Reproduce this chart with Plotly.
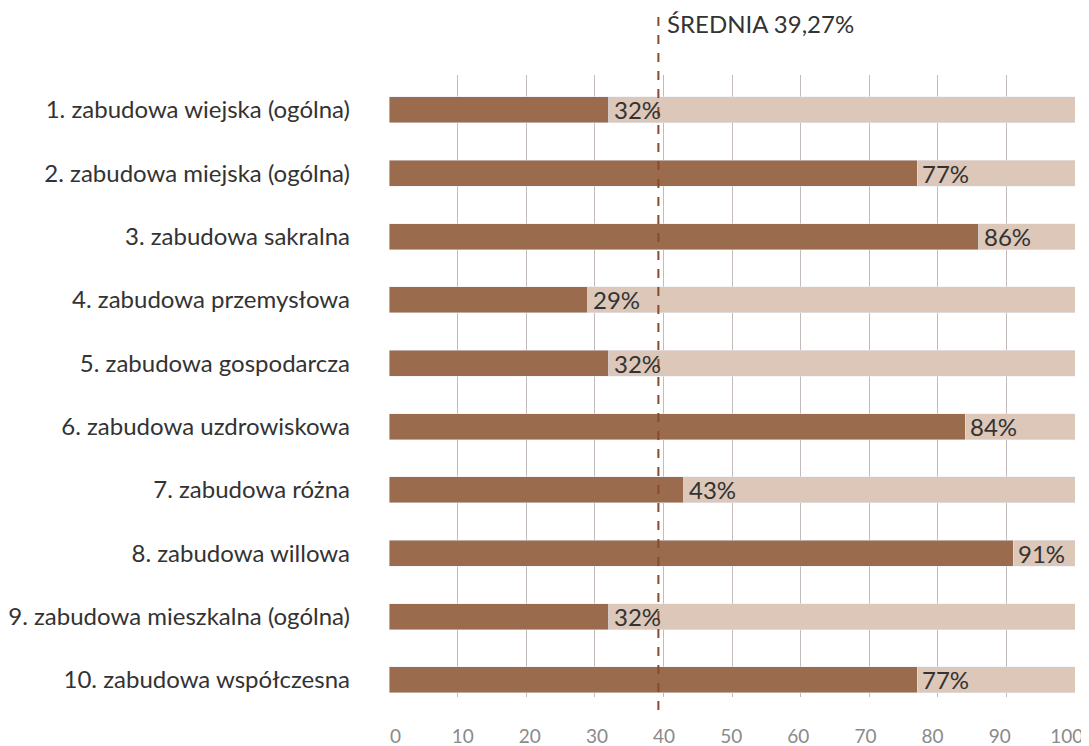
"""Udział zabudowy – wykres słupkowy poziomy ze średnią."""

import plotly.graph_objects as go

categories = [
    "1. zabudowa wiejska (ogólna)",
    "2. zabudowa miejska (ogólna)",
    "3. zabudowa sakralna",
    "4. zabudowa przemysłowa",
    "5. zabudowa gospodarcza",
    "6. zabudowa uzdrowiskowa",
    "7. zabudowa różna",
    "8. zabudowa willowa",
    "9. zabudowa mieszkalna (ogólna)",
    "10. zabudowa współczesna",
]
values = [32, 77, 86, 29, 32, 84, 43, 91, 32, 77]
mean_value = 39.27
mean_label = "ŚREDNIA 39,27%"
x_ticks = list(range(0, 101, 10))

DARK = "#9b6b4e"
LIGHT = "#dcc7b9"
FONT = "Lato"

rest = [100 - v for v in values]

fig = go.Figure()
fig.add_trace(go.Bar(
    y=categories, x=values, orientation="h", marker_color=DARK,
    width=0.41, hoverinfo="skip",
))
fig.add_trace(go.Bar(
    y=categories, x=rest, base=values, orientation="h", marker_color=LIGHT,
    width=0.41, hoverinfo="skip",
))
# niewidoczny ślad, żeby oś x2 (same etykiety) się narysowała
fig.add_trace(go.Scatter(
    x=x_ticks, y=[categories[0]] * len(x_ticks), xaxis="x2", mode="markers",
    marker=dict(opacity=0), hoverinfo="skip",
))

# etykiety wartości tuż za ciemnym słupkiem
for cat, v in zip(categories, values):
    fig.add_annotation(
        x=v, y=cat, text=f"{v}%", showarrow=False,
        xanchor="left", yanchor="middle", xshift=3,
        font=dict(family=FONT, size=24, color="#333333"),
    )

fig.add_shape(
    type="line", xref="x", yref="paper", x0=mean_value, x1=mean_value,
    y0=-0.021, y1=1.101, line=dict(color="#8a4a2c", width=2, dash="dash"),
)
fig.add_annotation(
    x=mean_value, xref="x", y=1.083, yref="paper", text=mean_label,
    showarrow=False, xanchor="left", yanchor="middle", xshift=7,
    font=dict(family=FONT, size=24, color="#333333"),
)

# strona ma 8 px marginesu body, więc marginesy są o tyle przesunięte
fig.update_layout(
    width=1089, height=746,
    margin=dict(l=381, r=22, t=67, b=57, autoexpand=False),
    barmode="stack", showlegend=False,
    plot_bgcolor="rgba(0,0,0,0)", paper_bgcolor="white",
    font=dict(family=FONT),
    xaxis=dict(
        range=[0, 100], tickvals=x_ticks, showticklabels=False,
        showgrid=True, gridcolor="#c2bbb7", gridwidth=1,
        zeroline=False, showline=False, ticks="",
    ),
    # osobna oś tylko z etykietami – w oryginale są lekko ściśnięte
    xaxis2=dict(
        domain=[0.0095, 0.988], anchor="y", range=[0, 100], tickvals=x_ticks,
        showgrid=False, zeroline=False, showline=False, ticks="",
        tickfont=dict(family=FONT, size=19, color="#8a8a8a"),
        ticklabelstandoff=26, ticklabeloverflow="allow",
    ),
    yaxis=dict(
        range=[9.27, -0.55], showgrid=False, zeroline=False,
        ticks="", ticklabelstandoff=38,
        tickfont=dict(family=FONT, size=24, color="#333333"),
    ),
)

fig.write_html("out.html")
